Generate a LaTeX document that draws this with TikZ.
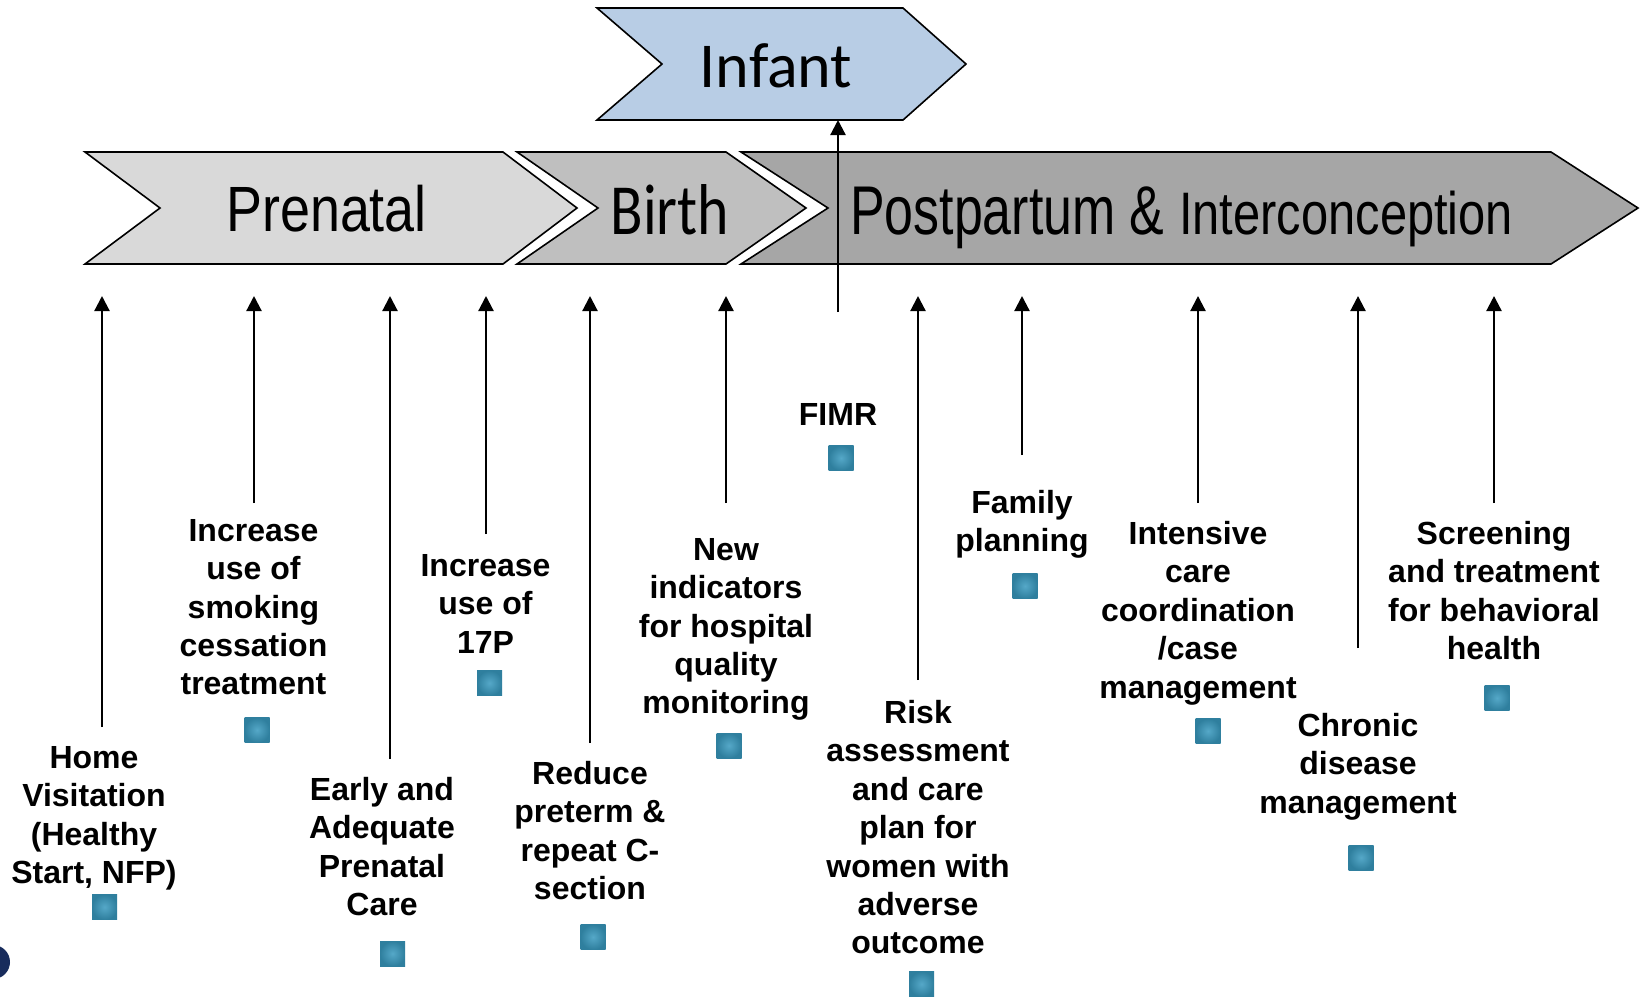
\documentclass[tikz,border=0pt]{standalone}
\usepackage{fontspec}
\setmainfont{Liberation Sans}
\newfontfamily\headfont{Carlito}
\usetikzlibrary{arrows.meta}
\definecolor{sqin}{HTML}{55A8C8}
\definecolor{sqout}{HTML}{2F7F9E}
\tikzset{
  chev/.style={draw=black,line width=1.6pt,line join=miter,miter limit=10},
  lab/.style={anchor=north,inner sep=0pt,align=center,font=\fontsize{32}{38.4}\selectfont\bfseries},
  conn/.style={draw=black,line width=2.2pt,-{Triangle[width=15pt,length=15pt]}},
  sq/.style={minimum size=25pt,inner sep=0pt,inner color=sqin,outer color=sqout,shade},
  head/.style={inner sep=0pt,anchor=center},
  headb/.style={inner sep=0pt,anchor=base west}
}
\newcommand{\hd}[3]{\scalebox{#2}[1]{\headfont\fontsize{#1}{#1}\selectfont #3}}
\newcommand{\hs}[3]{\scalebox{#2}[1]{\fontsize{#1}{#1}\selectfont #3}}
\begin{document}
\begin{tikzpicture}[x=1pt,y=-1pt]
\useasboundingbox (0,0) rectangle (1640,997);
\clip (0,0) rectangle (1640,997);
\fill[white] (0,0) rectangle (1640,997);
% chevrons
\draw[chev,fill=black!15] (85,152) -- (503,152) -- (577,208) -- (503,264) -- (85,264) -- (160,208) -- cycle;
\draw[chev,fill=black!25] (517,152) -- (726,152) -- (806,208) -- (726,264) -- (517,264) -- (598,208) -- cycle;
\draw[chev,fill=black!35] (741,152) -- (1551,152) -- (1638,208) -- (1551,264) -- (741,264) -- (828,208) -- cycle;
\draw[chev,fill={rgb,255:red,184;green,205;blue,229}] (597,8) -- (903,8) -- (966,64) -- (903,120) -- (597,120) -- (662,64) -- cycle;
\coordinate (infantfoot) at (838,120);
% heads
\node[head] (hinfant) at (776,66) {\hd{64}{1}{Infant}};
\node[headb] (hprenatal) at (226,231) {\hs{64}{0.842}{Prenatal}};
\node[head] (hbirth) at (670,210) {\hd{72}{0.83}{Birth}};
\node[headb] (hpost) at (850,234) {\hs{69}{0.752}{Postpartum \&}};
\node[headb] (hinter) at (1179,234) {\hs{60}{0.814}{Interconception}};
% dark mark
\fill[fill={rgb,255:red,24;green,44;blue,92}] (-7,962) circle (17);
% labels
\node[lab] (l1) at (94,746) {Home\\Visitation\\(Healthy\\Start, NFP)};
\node[lab] (l2) at (253.5,519) {Increase\\use of\\smoking\\cessation\\treatment};
\node[lab] (l3) at (382,777) {Early and\\Adequate\\Prenatal\\Care};
\node[lab] (l4) at (485.5,554) {Increase\\use of\\17P};
\node[lab] (l5) at (590,761) {Reduce\\preterm \&\\repeat C-\\section};
\node[lab] (l6) at (726,538) {New\\indicators\\for hospital\\quality\\monitoring};
\node[lab] (l7) at (838,403) {FIMR};
\node[lab] (l8) at (918,700) {Risk\\assessment\\and care\\plan for\\women with\\adverse\\outcome};
\node[lab] (l9) at (1022,490) {Family\\planning};
\node[lab] (l10) at (1198,521) {Intensive\\care\\coordination\\/case\\management};
\node[lab] (l11) at (1358,713) {Chronic\\disease\\management};
\node[lab] (l12) at (1494,521) {Screening\\and treatment\\for behavioral\\health};
% squares
\node[sq] (s1) at (104.5,907) {};
\node[sq] (s2) at (257,730) {};
\node[sq] (s3) at (392.5,953.5) {};
\node[sq] (s4) at (489.5,683) {};
\node[sq] (s5) at (593,937) {};
\node[sq] (s6) at (729,745.5) {};
\node[sq] (s7) at (841,458) {};
\node[sq] (s8) at (921.5,984) {};
\node[sq] (s9) at (1025,586) {};
\node[sq] (s10) at (1208,731) {};
\node[sq] (s11) at (1361,857.5) {};
\node[sq] (s12) at (1497,698) {};
% connector ends
\foreach \n/\x/\y in {1/102/727,2/254/503,3/390/759,4/486/534,5/590/743,6/726/503,8/918/680,9/1022/455,10/1198/503,11/1358/648,12/1494/503}{
  \coordinate (from\n) at (\x,\y);
  \coordinate (to\n) at (\x,296);
  \draw[conn] (from\n) -- (to\n);
}
\coordinate (from7) at (838,312);
\draw[conn] (from7) -- (infantfoot);
\end{tikzpicture}
\end{document}
